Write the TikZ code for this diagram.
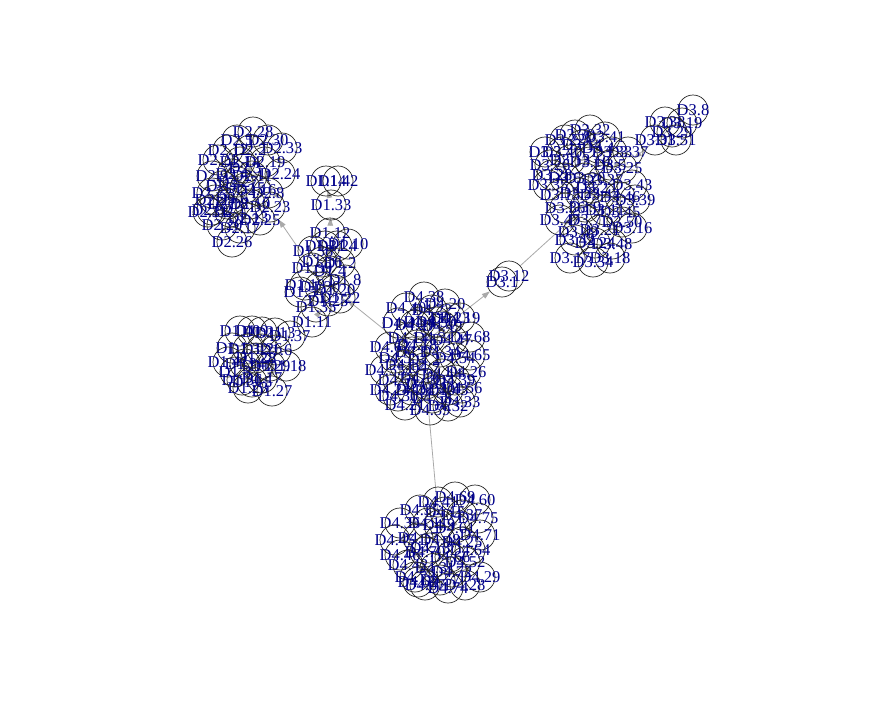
\documentclass[tikz,border=0pt]{standalone}
\usepackage{fontspec}
\setmainfont{Liberation Serif}
\usetikzlibrary{arrows.meta}
\definecolor{lbl}{HTML}{00008B}
\definecolor{edgec}{HTML}{A9A9A9}
\pgfdeclarelayer{bg}
\pgfdeclarelayer{paper}
\pgfsetlayers{paper,bg,main}
\tikzset{
  vtx/.style={circle, draw=black!85, line width=0.7pt, minimum size=30pt, inner sep=0pt,
    text=lbl, font=\fontsize{16.5}{16.5}\selectfont},
  lnk/.style={draw=edgec, line width=0.8pt, -{Triangle[length=8pt,width=5.5pt]}},
  lnkplain/.style={draw=edgec, line width=0.8pt},
}
\begin{document}
\begin{tikzpicture}[x=1pt,y=-1pt]
\begin{pgfonlayer}{paper}
\fill[white] (0,0) rectangle (873,715);
\end{pgfonlayer}
\useasboundingbox (0,0) rectangle (873,715);
% ---- D1 cluster ----
\foreach \x/\y/\b in {326/181/14, 338/181/42, 331/205/33, 330/233/12, 348/244/10, 313/251/38,
  337/246/24, 325/246/31, 340/263/2, 322/262/16, 312/268/39, 330/271/4, 305/285/19, 320/287/30,
  345/280/8, 335/290/20, 328/301/25, 316/307/35, 312/322/11, 340/298/22, 300/292/5,
  240/331/40, 252/331/9, 262/332/21, 275/333/13, 290/336/37, 232/348/1, 248/349/32, 262/349/26,
  276/350/6, 228/362/41, 245/364/34, 258/366/7, 270/366/29, 286/366/18, 242/380/36, 252/382/15,
  248/388/23, 272/391/27, 262/378/17, 235/372/3, 256/358/28}
  \node[vtx] (v1-\b) at (\x,\y) {\makebox[0pt]{D1.\b}};
% ---- D2 cluster ----
\foreach \x/\y/\b in {253/132/28, 237/140/5, 268/140/30, 282/148/33, 228/150/12, 250/150/2,
  218/160/21, 240/162/14, 265/162/19, 212/176/9, 232/174/4, 252/176/11, 280/174/24, 222/186/7,
  245/188/15, 268/193/8, 212/193/22, 232/198/6, 250/204/10, 270/207/23, 212/210/32, 230/212/1,
  248/218/13, 222/225/20, 240/228/17, 260/220/25, 232/242/26, 215/200/29, 238/182/27, 256/190/16,
  245/168/3, 228/204/18, 208/212/31}
  \node[vtx] (v2-\b) at (\x,\y) {\makebox[0pt]{D2.\b}};
% ---- D3 cluster ----
\foreach \x/\y/\b in {575/135/30, 590/130/32, 605/137/41, 565/140/22, 582/145/14, 598/148/4,
  562/152/40, 545/152/3, 612/152/33, 628/152/37, 550/165/26, 570/160/13, 590/162/10, 610/165/5,
  622/168/25, 548/185/35, 565/178/6, 585/178/20, 603/180/27, 632/185/43, 560/195/15, 580/193/23,
  600/195/44, 620/197/46, 635/200/39, 565/208/36, 585/207/9, 605/210/11, 620/212/45, 560/220/47,
  585/220/7, 622/222/50, 632/228/16, 578/232/49, 600/230/21, 575/240/42, 595/243/24, 612/244/48,
  570/258/17, 593/262/34, 610/258/18, 552/175/28, 592/188/2,
  693/110/8, 665/122/38, 682/123/19, 672/132/29, 655/140/31, 676/140/51,
  502/282/1, 509/276/12}
  \node[vtx] (v3-\b) at (\x,\y) {\makebox[0pt]{D3.\b}};
% ---- D4 clusters ----
\foreach \x/\y/\b in {424/297/38, 445/304/20, 406/308/40, 432/310/22, 460/318/19, 398/323/4,
  420/322/8, 442/326/49, 470/337/68, 390/347/63, 408/338/14, 430/338/3, 452/340/47, 470/355/65,
  412/352/1, 440/352/34, 455/358/54, 385/370/55, 405/365/12, 424/360/2, 466/372/26, 398/380/51,
  420/378/16, 442/374/44, 462/388/56, 390/390/24, 412/390/6, 435/390/10, 405/405/21, 430/410/59,
  448/406/32, 460/402/33, 415/325/27, 448/390/43, 395/358/5, 432/398/58, 424/368/7,
  417/345/18, 450/318/23, 398/396/30, 455/380/39, 436/322/50, 426/384/53,
  455/497/69, 475/500/60, 438/502/41, 420/510/35, 445/512/15, 478/518/75, 462/515/37, 400/523/36,
  428/523/11, 455/528/61, 480/535/71, 395/540/45, 418/538/17, 439/525/9, 440/540/48, 462/542/25,
  470/550/64, 400/555/46, 425/552/70, 450/557/66, 465/562/52, 408/565/42, 435/568/31, 415/577/73,
  440/580/57, 480/577/29, 465/585/28, 425/585/67, 452/572/72, 418/582/62, 430/548/13, 448/588/74}
  \node[vtx] (v4-\b) at (\x,\y) {\makebox[0pt]{D4.\b}};
% ---- edges ----
\begin{pgfonlayer}{bg}
  \draw[lnk] (v4-1) -- (v1-20);
  \draw[lnk] (v4-1) -- (v3-1);
  \draw[lnk] (v3-12) -- (v3-9);
  \draw[lnk] (v3-8) -- (v3-25);
  \draw[lnk] (v1-39) -- (v2-23);
  \draw[lnk] (v1-14) -- (v1-33);
  \draw[lnk] (v1-33) -- (v1-12);
  \draw[lnkplain] (v4-2) -- (v4-9);
  \draw[lnk] (v2-8) -- (v2-16);
  \draw[lnk] (v2-11) -- (v2-16);
  \draw[lnk] (v2-4) -- (v2-15);
  \draw[lnk] (v3-41) -- (v3-14);
  \draw[lnk] (v3-37) -- (v3-27);
  \draw[lnk] (v3-44) -- (v3-23);
  \draw[lnk] (v1-12) -- (v1-4);
  \draw[lnk] (v1-25) -- (v1-11);
  \draw[lnk] (v1-18) -- (v1-17);
  \draw[lnk] (v4-19) -- (v4-34);
  \draw[lnk] (v4-56) -- (v4-10);
  \draw[lnk] (v4-60) -- (v4-48);
  \draw[lnk] (v4-29) -- (v4-66);
\end{pgfonlayer}
\end{tikzpicture}
\end{document}
